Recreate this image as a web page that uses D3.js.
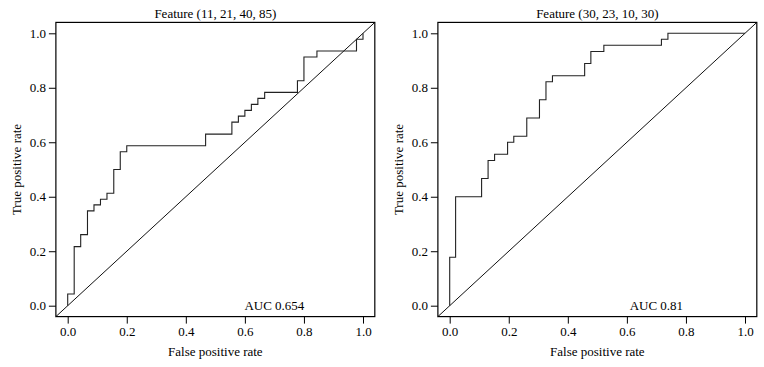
<!DOCTYPE html>
<html>
<head>
<meta charset="utf-8">
<script src="https://cdn.jsdelivr.net/npm/d3@7"></script>
<style>
  body { margin: 0; background: #fff; }
  svg text { font-family: "Liberation Serif", "DejaVu Serif", serif; fill: #000; }
</style>
</head>
<body>
<svg id="chart" width="764" height="367"></svg>
<script>
// ROC points (false positive rate, true positive rate)
const leftTitle = "Feature (11, 21, 40, 85)";
const leftFpr = [0, 0, 0.022, 0.044, 0.067, 0.089, 0.111, 0.133, 0.156, 0.178, 0.2, 0.467, 0.556, 0.578, 0.6, 0.622, 0.644, 0.667, 0.778, 0.8, 0.844, 0.978, 1];
const leftTpr = [0, 0.043, 0.217, 0.261, 0.348, 0.370, 0.391, 0.413, 0.5, 0.565, 0.587, 0.630, 0.674, 0.696, 0.717, 0.739, 0.761, 0.783, 0.826, 0.913, 0.935, 0.978, 1];
const leftAuc = "AUC 0.654";

const rightTitle = "Feature (30, 23, 10, 30)";
const rightFpr = [0, 0, 0.02, 0.108, 0.13, 0.152, 0.196, 0.217, 0.261, 0.304, 0.326, 0.348, 0.457, 0.478, 0.522, 0.717, 0.739, 1];
const rightTpr = [0, 0.178, 0.4, 0.467, 0.533, 0.556, 0.6, 0.622, 0.689, 0.756, 0.822, 0.844, 0.889, 0.933, 0.956, 0.978, 1, 1];
const rightAuc = "AUC 0.81";

const tickValues = [0, 0.2, 0.4, 0.6, 0.8, 1.0];

const svg = d3.select("#chart");

function drawPanel(offsetX, title, fpr, tpr, aucLabel) {
    const g = svg.append("g").attr("transform", "translate(" + offsetX + ",0)");

    const x = d3.scaleLinear().domain([0, 1]).range([67.7, 363]);
    const y = d3.scaleLinear().domain([0, 1]).range([305.7, 33.3]);

    // R style: plot region extends 4% past the data range
    const x0 = x(-0.04), x1 = x(1.04), y0 = y(-0.04), y1 = y(1.04);

    g.append("g")
        .attr("transform", "translate(0," + y0 + ")")
        .call(d3.axisBottom(x).tickValues(tickValues).tickFormat(d3.format(".1f")).tickSize(7).tickPadding(3))
        .call(a => a.select(".domain").remove())
        .call(a => a.selectAll("text").style("font-size", "13px").attr("dy", "0.75em"));

    g.append("g")
        .attr("transform", "translate(" + x0 + ",0)")
        .call(d3.axisLeft(y).tickValues(tickValues).tickFormat(d3.format(".1f")).tickSize(7).tickPadding(3))
        .call(a => a.select(".domain").remove())
        .call(a => a.selectAll("text").style("font-size", "13px"));

    g.selectAll(".tick line").attr("stroke", "#000");

    // diagonal reference line, corner to corner
    g.append("line")
        .attr("x1", x0).attr("y1", y0)
        .attr("x2", x1).attr("y2", y1)
        .attr("stroke", "#111")
        .attr("stroke-width", 1);

    const pts = fpr.map((d, i) => [d, tpr[i]]);
    const line = d3.line()
        .x(d => x(d[0]))
        .y(d => y(d[1]))
        .curve(d3.curveStepAfter);

    g.append("path")
        .datum(pts)
        .attr("d", line)
        .attr("fill", "none")
        .attr("stroke", "#222")
        .attr("stroke-width", 1.1);

    g.append("rect")
        .attr("x", x0).attr("y", y1)
        .attr("width", x1 - x0).attr("height", y0 - y1)
        .attr("fill", "none")
        .attr("stroke", "#000")
        .attr("stroke-width", 1.2);

    g.append("text")
        .attr("x", (x0 + x1) / 2).attr("y", 18)
        .attr("text-anchor", "middle")
        .style("font-size", "13px")
        .text(title);

    g.append("text")
        .attr("x", x(0.7)).attr("y", y(0))
        .attr("dy", "0.35em")
        .attr("text-anchor", "middle")
        .style("font-size", "13px")
        .text(aucLabel);

    g.append("text")
        .attr("x", (x0 + x1) / 2).attr("y", 356)
        .attr("text-anchor", "middle")
        .style("font-size", "13px")
        .text("False positive rate");

    g.append("text")
        .attr("transform", "translate(21," + (y0 + y1) / 2 + ") rotate(-90)")
        .attr("text-anchor", "middle")
        .style("font-size", "13px")
        .text("True positive rate");
}

drawPanel(0, leftTitle, leftFpr, leftTpr, leftAuc);
drawPanel(382, rightTitle, rightFpr, rightTpr, rightAuc);
</script>
</body>
</html>
